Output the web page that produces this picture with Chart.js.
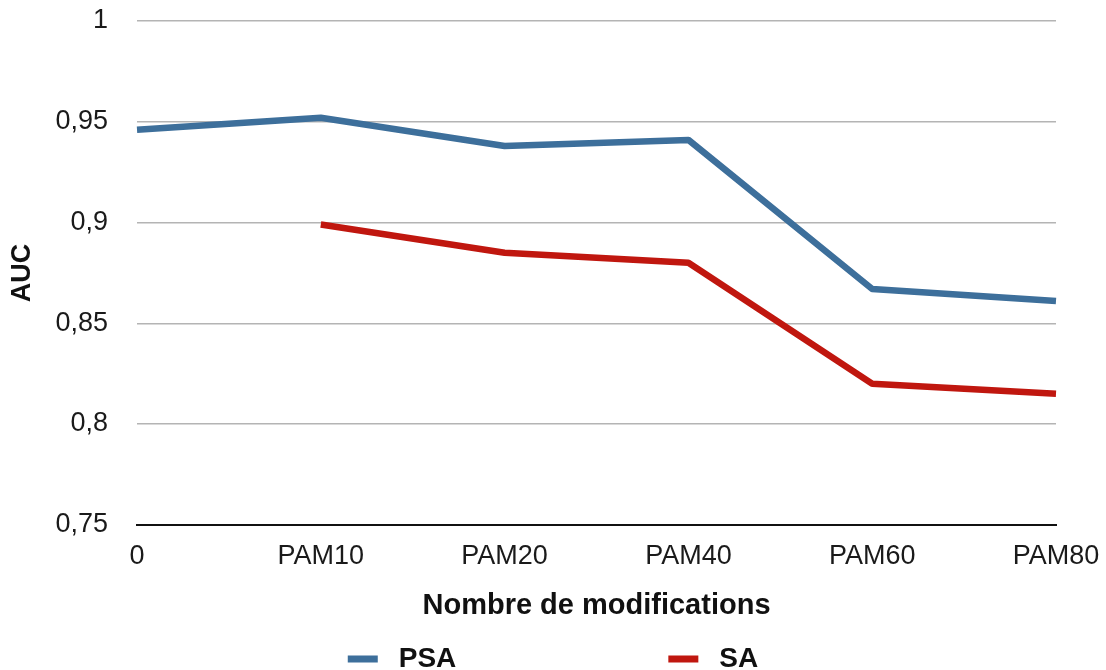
<!DOCTYPE html>
<html>
<head>
<meta charset="utf-8">
<script src="https://cdn.jsdelivr.net/npm/chart.js@4"></script>
<style>
  html, body { margin: 0; padding: 0; background: #ffffff; overflow: hidden; }
  #wrap { width: 1106px; height: 670px; }
</style>
</head>
<body>
<div id="wrap"><canvas id="auc" width="1106" height="670"></canvas></div>
<script>
// Categories and AUC values per series
const categories = ['0', 'PAM10', 'PAM20', 'PAM40', 'PAM60', 'PAM80'];
const psaValues = [0.946, 0.952, 0.938, 0.941, 0.867, 0.861];
const saValues = [null, 0.899, 0.885, 0.880, 0.820, 0.815];
const seriesNames = ['PSA', 'SA'];
const seriesColors = ['#3d6f9b', '#c0170f'];
const yTicks = [0.75, 0.8, 0.85, 0.9, 0.95, 1];

const FONT = "'Liberation Sans', Arial, Helvetica, sans-serif";

// Bottom legend: short thick bars with bold labels, spread wide and centred
const wideLegend = {
  id: 'wideLegend',
  afterDraw(chart) {
    const ctx = chart.ctx;
    const boxW = 30, boxH = 7, textGap = 21, itemGap = 212;
    ctx.save();
    ctx.font = "bold 28px " + FONT;
    const items = chart.data.datasets.map(ds => {
      const tw = ctx.measureText(ds.label).width;
      return { label: ds.label, color: ds.borderColor, w: boxW + textGap + tw };
    });
    const total = items.reduce((s, it) => s + it.w, 0) + itemGap * (items.length - 1);
    let x = (chart.width - total) / 2;
    const cy = chart.height - 11;
    ctx.textBaseline = 'alphabetic';
    ctx.textAlign = 'left';
    items.forEach(it => {
      ctx.fillStyle = it.color;
      ctx.fillRect(x, cy - boxH / 2, boxW, boxH);
      ctx.fillStyle = '#111111';
      ctx.fillText(it.label, x + boxW + textGap, cy + 8);
      x += it.w + itemGap;
    });
    ctx.restore();
  }
};

new Chart(document.getElementById('auc'), {
  type: 'line',
  data: {
    labels: categories,
    datasets: [
      {
        label: seriesNames[0],
        data: psaValues,
        borderColor: seriesColors[0],
        backgroundColor: seriesColors[0],
        borderWidth: 6.5,
        borderJoinStyle: 'round',
        pointRadius: 0,
        tension: 0,
        fill: false
      },
      {
        label: seriesNames[1],
        data: saValues,
        borderColor: seriesColors[1],
        backgroundColor: seriesColors[1],
        borderWidth: 6.5,
        borderJoinStyle: 'round',
        pointRadius: 0,
        tension: 0,
        fill: false
      }
    ]
  },
  options: {
    responsive: false,
    animation: false,
    devicePixelRatio: 1,
    layout: { padding: { left: 6, right: 50, top: 21, bottom: 47 } },
    plugins: {
      legend: { display: false },
      tooltip: { enabled: false }
    },
    scales: {
      x: {
        offset: false,
        afterFit(scale) {
          scale.paddingLeft = 0;
          scale.paddingRight = 0;
        },
        grid: { display: false, drawTicks: false },
        border: { display: true, color: '#111111', width: 2 },
        ticks: {
          padding: 15.5,
          color: '#1a1a1a',
          font: { family: FONT, size: 27 },
          maxRotation: 0,
          autoSkip: false
        },
        title: {
          display: true,
          text: 'Nombre de modifications',
          color: '#111111',
          font: { family: FONT, size: 29, weight: 'bold' },
          padding: { top: 0, bottom: 0 }
        }
      },
      y: {
        min: yTicks[0],
        max: yTicks[yTicks.length - 1],
        afterBuildTicks(scale) {
          scale.ticks = yTicks.map(v => ({ value: v }));
        },
        afterFit(scale) {
          scale.width = 131;
          scale.paddingTop = 0;
          scale.paddingBottom = 0;
        },
        grid: {
          color: '#b4b4b4',
          lineWidth: 1.5,
          drawTicks: false
        },
        border: { display: false },
        ticks: {
          padding: 29,
          color: '#1a1a1a',
          font: { family: FONT, size: 27 },
          callback: v => String(Math.round(v * 100) / 100).replace('.', ',')
        },
        title: {
          display: true,
          text: 'AUC',
          color: '#111111',
          font: { family: FONT, size: 27, weight: 'bold' },
          padding: { top: 0, bottom: 0 }
        }
      }
    }
  },
  plugins: [wideLegend]
});
</script>
</body>
</html>
